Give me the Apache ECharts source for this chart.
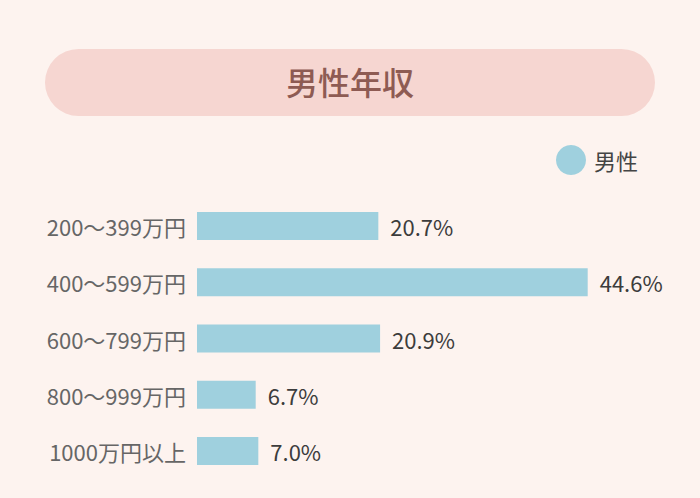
<!DOCTYPE html>
<html><head><meta charset="utf-8">
<script src="https://cdn.jsdelivr.net/npm/echarts@6/dist/echarts.min.js"></script>
<style>html,body{margin:0;padding:0;background:#fdf3ef}#c{width:700px;height:498px}</style>
</head><body><div id="c"></div>
<script>
const categories = ['200～399万円', '400～599万円', '600～799万円', '800～999万円', '1000万円以上'];
const seriesName = '男性';
const values = [20.7, 44.6, 20.9, 6.7, 7.0];
const titleText = '男性年収';

const chart = echarts.init(document.getElementById('c'), null, {renderer: 'svg'});
const FONT = '"Noto Sans CJK JP", "Noto Sans", sans-serif';
chart.setOption({
  backgroundColor: '#fdf3ef',
  graphic: [{
    type: 'rect', left: 45, top: 49,
    shape: {width: 610, height: 67, r: 33.5},
    style: {fill: '#f6d6d1'}, z: 0
  }],
  title: {
    text: titleText, left: 'center', top: 60,
    textStyle: {fontFamily: FONT, fontSize: 32, fontWeight: 500, color: '#8e5b53'}
  },
  legend: {
    data: [seriesName], right: 57, top: 140, icon: 'circle',
    itemWidth: 30, itemHeight: 30, itemGap: 8,
    textStyle: {fontFamily: FONT, fontSize: 22, color: '#444', padding: [0, 0, 0, 3]}
  },
  grid: {left: 197, right: 65, top: 198, bottom: 19, containLabel: false},
  xAxis: {type: 'value', min: 0, max: 50, show: false},
  yAxis: {
    type: 'category', data: categories, inverse: true,
    axisLine: {show: false}, axisTick: {show: false}, splitLine: {show: false},
    axisLabel: {fontFamily: FONT, fontSize: 22, color: '#666', margin: 11}
  },
  series: [{
    name: seriesName, type: 'bar', data: values, barWidth: 28,
    itemStyle: {color: '#9fd0de'},
    label: {
      show: true, position: 'right', distance: 12,
      formatter: p => p.value.toFixed(1) + '%',
      fontFamily: FONT, fontSize: 22, fontWeight: 'normal', color: '#3c3c3c'
    }
  }],
  animation: false
});
</script></body></html>
